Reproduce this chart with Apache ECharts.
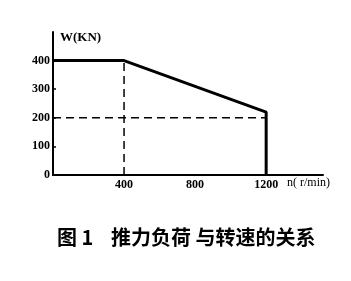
<!DOCTYPE html>
<html><head><meta charset="utf-8">
<script src="https://cdn.jsdelivr.net/npm/echarts@6/dist/echarts.min.js"></script>
<style>html,body{margin:0;padding:0;background:#fff}#c{width:351px;height:281px}</style>
</head><body><div id="c"></div>
<script>
const speed = [0, 400, 1200, 1200];
const load = [400, 400, 220, 0];
const dashV = [[400, 0], [400, 400]];
const dashH = [[0, 200], [1200, 200]];
const xTicks = [400, 800, 1200];
const yTicks = [0, 100, 200, 300, 400];
const figLabel = '图 1';
const titleText = '推力负荷 与转速的关系';

const chart = echarts.init(document.getElementById('c'));
const serif = '"Liberation Serif", "DejaVu Serif", serif';
const tStyle = {fontFamily: '"Noto Sans CJK SC"', fontWeight: 'bold', fontSize: 20, color: '#000'};
chart.setOption({
  animation: false,
  backgroundColor: '#fff',
  title: [
    {text: figLabel, left: 52, top: 222, textStyle: tStyle},
    {text: titleText, left: 106, top: 222, textStyle: tStyle}
  ],
  grid: {left: 53, top: 32, width: 270, height: 143},
  xAxis: {
    type: 'value', min: 0, max: 1520, interval: 400,
    name: 'n( r/min)', nameLocation: 'end', nameGap: -36,
    nameTextStyle: {fontFamily: serif, fontSize: 12, color: '#000', align: 'left', verticalAlign: 'top', padding: [2, 0, 0, 0]},
    axisLine: {lineStyle: {color: '#000', width: 2}},
    axisTick: {show: false},
    splitLine: {show: false},
    axisLabel: {
      fontFamily: serif, fontSize: 12, fontWeight: 'bold', color: '#000', margin: 4, showMaxLabel: false,
      formatter: v => xTicks.includes(v) ? String(v) : ''
    }
  },
  yAxis: {
    type: 'value', min: 0, max: 500, interval: 100,
    name: 'W(KN)', nameLocation: 'end', nameGap: -12,
    nameTextStyle: {fontFamily: serif, fontSize: 13, fontWeight: 'bold', color: '#000', align: 'left', padding: [0, 0, 0, 7]},
    axisLine: {lineStyle: {color: '#000', width: 2}},
    axisTick: {show: true, inside: true, length: 3, lineStyle: {color: '#000', width: 1.5}},
    splitLine: {show: false},
    axisLabel: {
      fontFamily: serif, fontSize: 12, fontWeight: 'bold', color: '#000', margin: 3, showMaxLabel: false,
      formatter: v => yTicks.includes(v) ? String(v) : ''
    }
  },
  series: [
    {type: 'line', data: speed.map((s, i) => [s, load[i]]), symbol: 'none',
     lineStyle: {color: '#000', width: 3}},
    {type: 'line', data: dashV, symbol: 'none',
     lineStyle: {color: '#000', width: 1.5, type: [8, 5]}},
    {type: 'line', data: dashH, symbol: 'none',
     lineStyle: {color: '#000', width: 1.5, type: [8, 5]}}
  ]
});
</script></body></html>
